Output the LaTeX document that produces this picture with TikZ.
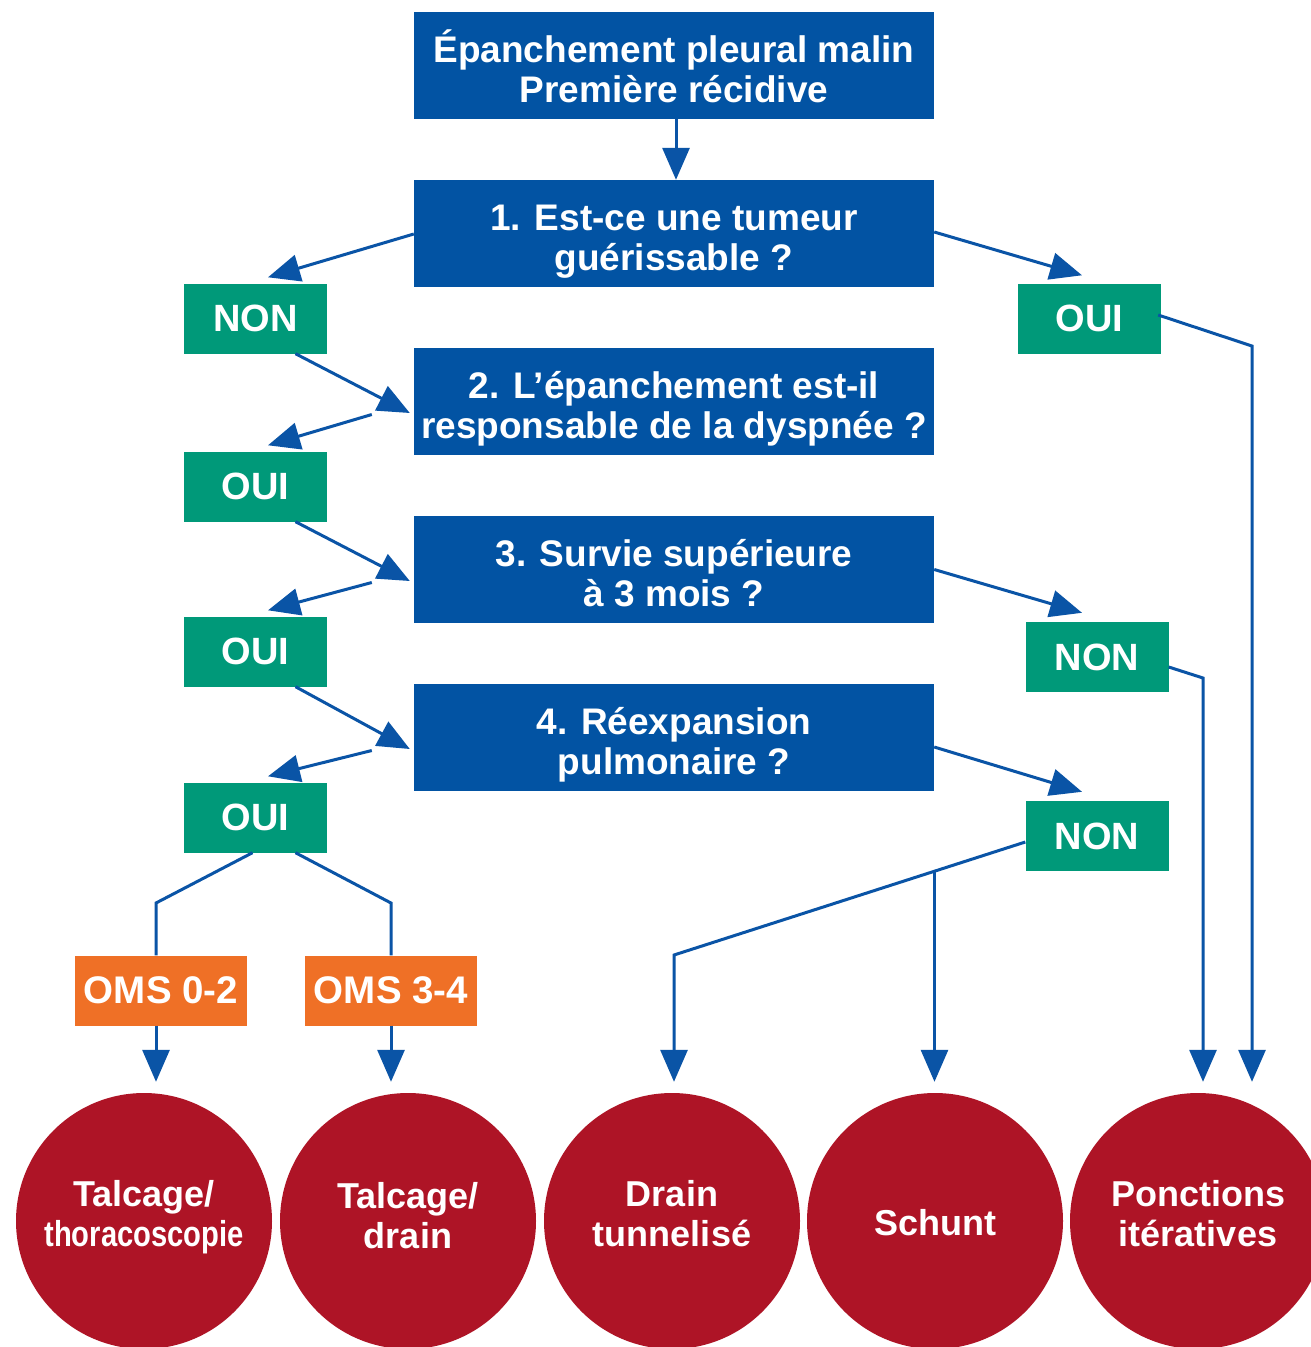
\documentclass[tikz,border=0pt]{standalone}
\usepackage{fontspec}
\setmainfont{Liberation Sans}
\usetikzlibrary{arrows.meta,calc}
\definecolor{boxblue}{RGB}{2,83,163}
\definecolor{boxgreen}{RGB}{0,153,121}
\definecolor{boxorange}{RGB}{239,112,38}
\definecolor{circred}{RGB}{174,20,38}
\definecolor{linkblue}{RGB}{10,84,166}
\newcommand{\qtext}[2]{\rule{0pt}{41pt}#1\\#2\vphantom{g}}
\begin{document}
\begin{tikzpicture}[x=1pt,y=-1pt,
  question/.style={fill=boxblue, minimum width=520pt, minimum height=107pt, inner sep=0pt,
    text=white, align=center, font=\fontsize{37}{40}\selectfont\bfseries},
  answer/.style={fill=boxgreen, minimum width=143pt, minimum height=70pt, inner sep=0pt,
    text=white, font=\fontsize{38}{40}\selectfont\bfseries},
  omsbox/.style={fill=boxorange, minimum width=172pt, minimum height=70pt, inner sep=0pt,
    text=white, font=\fontsize{38.5}{40}\selectfont\bfseries},
  outcome/.style={circle, fill=circred, minimum size=256pt, inner sep=0pt},
  outtext/.style={text=white, align=center, inner sep=0pt, font=\fontsize{36}{40}\selectfont\bfseries},
  link/.style={draw=linkblue, line width=3pt},
  arr/.style={link, -{Triangle[length=32pt,width=27pt]}},
]
\fill[white] (0,0) rectangle (1310,1347);
\useasboundingbox (0,0) rectangle (1310,1347);

% question boxes
\node[question] (top) at (674,65.5) {\qtext{Épanchement pleural malin}{Première récidive}};
\node[question] (q1) at (674,233.5) {\qtext{1. Est-ce une tumeur}{guérissable ?}};
\node[question] (q2) at (674,401.5) {\qtext{2. L’épanchement est-il}{responsable de la dyspnée ?}};
\node[question] (q3) at (674,569.5) {\qtext{3. Survie supérieure}{à 3 mois ?}};
\node[question] (q4) at (674,737.5) {\qtext{4. Réexpansion}{pulmonaire ?}};

% answers
\node[answer] (non1) at (255.5,318.5) {NON};
\node[answer] (oui2) at (255.5,486.5) {OUI};
\node[answer] (oui3) at (255.5,651.5) {OUI};
\node[answer] (oui4) at (255.5,817.5) {OUI};
\node[answer] (oui1) at (1089.5,318.5) {OUI};
\node[answer] (non3) at (1097,657) {NON};
\node[answer] (non4) at (1097,836) {NON};

% OMS
\node[omsbox] (oms02) at (161,990.5) {OMS 0-2};
\node[omsbox] (oms34) at (391,990.5) {OMS 3-4};

% outcomes
\node[outcome] (c1) at (144,1221) {};
\node[outcome] (c2) at (408,1221) {};
\node[outcome] (c3) at (672,1221) {};
\node[outcome] (c4) at (935,1221) {};
\node[outcome] (c5) at (1198,1221) {};
\node[outtext] (t1) at (144,1217) {Talcage/\\\scalebox{0.81}[1]{thoracoscopie}};
\node[outtext] (t2) at (408,1216) {Talcage/\\drain};
\node[outtext] (t3) at (672,1214) {Drain\\tunnelisé};
\node[outtext] (t4) at (935,1223) {Schunt};
\node[outtext] (t5) at (1198,1214) {Ponctions\\itératives};

% main chain
\draw[arr] ([xshift=2]top.south) -- ([xshift=2]q1.north);

% left side
\draw[arr] ([shift={(0,0.5)}]q1.west) -- ([shift={(12.5,-6)}]non1.north);
\draw[arr] ([xshift=40]non1.south) -- ([shift={(-4,11.5)}]q2.west);
\coordinate (j2) at ([shift={(-42,13)}]q2.west);
\draw[arr] (j2) -- ([shift={(12.5,-6)}]oui2.north);

\draw[arr] ([xshift=40]oui2.south) -- ([shift={(-4,11.5)}]q3.west);
\coordinate (j3) at ([shift={(-42,13)}]q3.west);
\draw[arr] (j3) -- ([shift={(12.5,-6)}]oui3.north);

\draw[arr] ([xshift=40]oui3.south) -- ([shift={(-4,11.5)}]q4.west);
\coordinate (j4) at ([shift={(-42,13)}]q4.west);
\draw[arr] (j4) -- ([shift={(12.5,-6)}]oui4.north);

% OUI -> OMS
\draw[link] ([xshift=-3]oui4.south) -- (156,903) -- ([xshift=-5]oms02.north);
\draw[link] ([xshift=40]oui4.south) -- (391,903) -- (oms34.north);
\draw[arr] ([xshift=-5]oms02.south) -- ([shift={(12,-11)}]c1.north);
\draw[arr] (oms34.south) -- ([shift={(-17,-11)}]c2.north);

% right side
\draw[arr] ([shift={(0,-1.5)}]q1.east) -- ([shift={(-7.5,-8)}]oui1.north);
\draw[arr] ([shift={(-3,-3.5)}]oui1.east) -- (1252,346) -- ([shift={(54,-11)}]c5.north);

\draw[arr] ([shift={(0,0)}]q3.east) -- ([shift={(-15,-9)}]non3.north);
\draw[arr] ([shift={(0,10)}]non3.east) -- (1203,678) -- ([shift={(5,-11)}]c5.north);

\draw[arr] ([shift={(0,9.5)}]q4.east) -- ([shift={(-15,-9)}]non4.north);
\coordinate (s4) at ([shift={(0,6)}]non4.west);
\coordinate (b4) at (674,955);
\draw[arr] (s4) -- (b4) -- ([shift={(2,-11)}]c3.north);
\coordinate (j5) at ($(s4)!0.2585!(b4)$);
\coordinate (e5) at ([shift={(0,-11)}]c4.north);
\draw[arr] (j5) -- (j5 |- e5);
\end{tikzpicture}
\end{document}
